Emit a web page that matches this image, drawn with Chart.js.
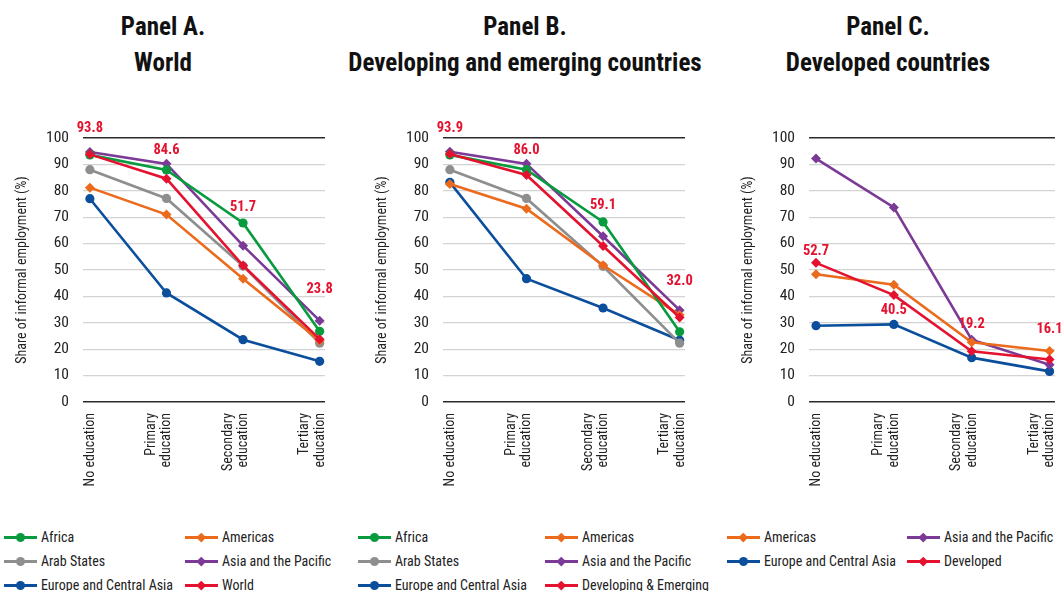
<!DOCTYPE html>
<html>
<head>
<meta charset="utf-8">
<script src="https://cdn.jsdelivr.net/npm/chart.js@4.4.1/dist/chart.umd.min.js"></script>
<style>
body { margin: 0; background: #fff; width: 1061px; height: 591px; overflow: hidden; position: relative;
       font-family: 'Roboto Condensed', 'DejaVu Sans Condensed', sans-serif; }
.panel { position: absolute; top: 0; height: 505px; }
.title { position: absolute; top: 9px; width: 400px; margin-left: -200px; text-align: center;
         font-weight: bold; font-size: 25px; line-height: 36px; color: #111; }
.legend { position: absolute; top: 525px; display: grid; font-size: 14px; color: #222; }
.item { display: flex; align-items: center; height: 24px; white-space: nowrap; }
.sw { position: relative; width: 33px; height: 10px; margin-right: 4px; flex: none; }
.sw .ln { position: absolute; left: 0; right: 0; top: 4px; height: 2.5px; }
.sw .mk { position: absolute; left: 12px; top: 0.5px; width: 9px; height: 9px; border-radius: 50%; }
.sw .mk.d { width: 6.5px; height: 6.5px; left: 13.2px; top: 1.8px; border-radius: 0; transform: rotate(45deg); }
</style>
</head>
<body>
<div class="title" style="left:163px">Panel A.<br>World</div>
<div class="title" style="left:525px">Panel B.<br>Developing and emerging countries</div>
<div class="title" style="left:888px">Panel C.<br>Developed countries</div>
<canvas id="chartA" class="panel" style="left:0px;width:345px"></canvas>
<canvas id="chartB" class="panel" style="left:360px;width:345px"></canvas>
<canvas id="chartC" class="panel" style="left:722px;width:339px"></canvas>
<div id="legendA" class="legend" style="left:4px;grid-template-columns:181px auto"></div>
<div id="legendB" class="legend" style="left:358px;grid-template-columns:187px auto"></div>
<div id="legendC" class="legend" style="left:727px;grid-template-columns:180px auto"></div>

<script>
// データ
const categories = ['No education', 'Primary education', 'Secondary education', 'Tertiary education'];
const yTickLabels = [0, 10, 20, 30, 40, 50, 60, 70, 80, 90, 100];

// Panel A. World
const worldAfrica   = [93.6, 87.9, 67.8, 26.8];
const worldAmericas = [81.2, 71.0, 46.7, 23.2];
const worldArab     = [88.0, 77.1, 51.5, 22.3];
const worldAsia     = [94.7, 90.2, 59.2, 30.8];
const worldEurope   = [77.0, 41.3, 23.6, 15.4];
const worldTotal    = [93.8, 84.6, 51.7, 23.8];

// Panel B. Developing and emerging countries
const demAfrica   = [93.6, 88.0, 68.2, 26.6];
const demAmericas = [82.6, 73.2, 51.8, 33.0];
const demArab     = [88.0, 77.1, 51.4, 22.3];
const demAsia     = [94.8, 90.2, 62.8, 34.8];
const demEurope   = [83.2, 46.7, 35.6, 23.4];
const demTotal    = [93.9, 86.0, 59.1, 32.0];

// Panel C. Developed countries
const devAmericas = [48.4, 44.4, 22.6, 19.3];
const devAsia     = [92.2, 73.7, 23.6, 14.1];
const devEurope   = [28.9, 29.4, 16.8, 11.6];
const devTotal    = [52.7, 40.5, 19.2, 16.1];

const FONT = "'Roboto Condensed', 'DejaVu Sans Condensed', sans-serif";
const RED = '#e4122f';
const styles = {
    africa:   { color: '#079b3e', marker: 'circle' },
    americas: { color: '#ec6a1c', marker: 'rectRot' },
    arab:     { color: '#8e8e8e', marker: 'circle' },
    asia:     { color: '#7b3a96', marker: 'rectRot' },
    europe:   { color: '#0b4f9c', marker: 'circle' },
    total:    { color: RED,       marker: 'rectRot' }
};

// 赤線の数値ラベル
const valueLabels = {
    id: 'valueLabels',
    afterDatasetsDraw(chart, args, opts) {
        const ds = chart.data.datasets[opts.dataset];
        const meta = chart.getDatasetMeta(opts.dataset);
        const ctx = chart.ctx;
        ctx.save();
        ctx.font = 'bold 14.5px ' + FONT;
        ctx.fillStyle = RED;
        ctx.textAlign = 'center';
        ctx.textBaseline = 'middle';
        meta.data.forEach((pt, i) => {
            ctx.fillText(ds.data[i].y.toFixed(1), pt.x, pt.y + opts.offsets[i]);
        });
        ctx.restore();
    }
};

function makeDataset(label, values, key) {
    const s = styles[key];
    return {
        label: label,
        data: values.map((v, i) => ({ x: i, y: v })),
        borderColor: s.color,
        backgroundColor: s.color,
        pointBackgroundColor: s.color,
        pointBorderWidth: 0,
        pointStyle: s.marker,
        pointRadius: s.marker === 'circle' ? 4.6 : 5,
        borderWidth: 2.6,
        tension: 0,
        order: key === 'total' ? 0 : 1,
        _key: key
    };
}

// 2行ラベル（1行目は左側）
function tickLabel(i) {
    const words = categories[i].split(' ');
    return words[0] === 'No' ? ['', categories[i]] : words;
}

function makeChart(id, datasets, offsets, pad) {
    const totalIndex = datasets.findIndex(d => d._key === 'total');
    return new Chart(document.getElementById(id), {
        type: 'line',
        data: { datasets: datasets },
        plugins: [valueLabels],
        options: {
            responsive: false,
            animation: false,
            layout: { padding: { left: pad[0], right: pad[1], top: 138, bottom: 0 } },
            scales: {
                x: {
                    type: 'linear',
                    min: -0.09,
                    max: 3.07,
                    afterBuildTicks: s => { s.ticks = categories.map((c, i) => ({ value: i })); },
                    afterFit: s => { s.height = 103; s.paddingLeft = 0; s.paddingRight = 0; },
                    grid: { display: false, drawTicks: false },
                    border: { display: false },
                    ticks: {
                        maxRotation: 90,
                        minRotation: 90,
                        autoSkip: false,
                        padding: 11,
                        labelOffset: -15,
                        color: '#222',
                        font: { family: FONT, size: 14, lineHeight: 1.1 },
                        callback: (v, i) => tickLabel(i)
                    }
                },
                y: {
                    min: 0,
                    max: 100,
                    afterBuildTicks: s => { s.ticks = yTickLabels.map(v => ({ value: v })); },
                    afterFit: s => { s.width = 83; s.paddingTop = 0; s.paddingBottom = 0; },
                    border: { display: false },
                    grid: {
                        drawTicks: false,
                        color: c => (c.tick.value === 0 || c.tick.value === 100) ? '#2b2b2b' : '#d3d3d3',
                        lineWidth: c => (c.tick.value === 0 || c.tick.value === 100) ? 1.4 : 1.2
                    },
                    ticks: {
                        padding: 14,
                        color: '#222',
                        font: { family: FONT, size: 15.5 }
                    },
                    title: {
                        display: true,
                        text: 'Share of informal employment (%)',
                        color: '#222',
                        font: { family: FONT, size: 14 },
                        padding: { top: 14, bottom: 0 }
                    }
                }
            },
            plugins: {
                legend: { display: false },
                tooltip: { enabled: false },
                valueLabels: { dataset: totalIndex, offsets: offsets }
            }
        }
    });
}

// 凡例（線＋マーカー）
function buildLegend(id, datasets) {
    const box = document.getElementById(id);
    datasets.forEach(ds => {
        const s = styles[ds._key];
        const item = document.createElement('div');
        item.className = 'item';
        item.innerHTML =
            '<span class="sw"><span class="ln" style="background:' + s.color + '"></span>' +
            '<span class="mk' + (s.marker === 'circle' ? '' : ' d') + '" style="background:' + s.color + '"></span></span>' +
            '<span>' + ds.label + '</span>';
        box.appendChild(item);
    });
}

function setSize(id, w, h) {
    const c = document.getElementById(id);
    c.width = w; c.height = h;
}
setSize('chartA', 345, 505);
setSize('chartB', 345, 505);
setSize('chartC', 339, 505);

const dsA = [
    makeDataset('Africa', worldAfrica, 'africa'),
    makeDataset('Americas', worldAmericas, 'americas'),
    makeDataset('Arab States', worldArab, 'arab'),
    makeDataset('Asia and the Pacific', worldAsia, 'asia'),
    makeDataset('Europe and Central Asia', worldEurope, 'europe'),
    makeDataset('World', worldTotal, 'total')
];
const dsB = [
    makeDataset('Africa', demAfrica, 'africa'),
    makeDataset('Americas', demAmericas, 'americas'),
    makeDataset('Arab States', demArab, 'arab'),
    makeDataset('Asia and the Pacific', demAsia, 'asia'),
    makeDataset('Europe and Central Asia', demEurope, 'europe'),
    makeDataset('Developing & Emerging', demTotal, 'total')
];
const dsC = [
    makeDataset('Americas', devAmericas, 'americas'),
    makeDataset('Asia and the Pacific', devAsia, 'asia'),
    makeDataset('Europe and Central Asia', devEurope, 'europe'),
    makeDataset('Developed', devTotal, 'total')
];

makeChart('chartA', dsA, [-26, -28, -58, -50], [0, 20]);
makeChart('chartB', dsB, [-26, -25, -41, -36], [0, 20]);
makeChart('chartC', dsC, [-11.5, 15, -27, -30], [4, 6]);

buildLegend('legendA', dsA);
buildLegend('legendB', dsB);
buildLegend('legendC', dsC);
</script>
</body>
</html>
